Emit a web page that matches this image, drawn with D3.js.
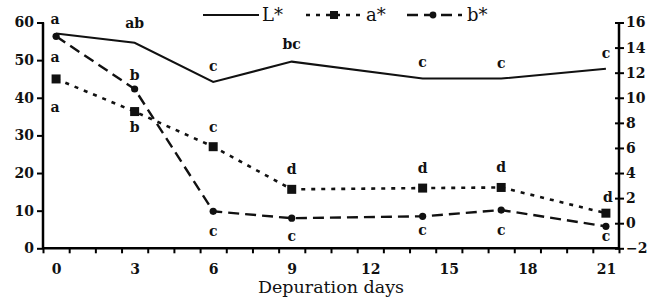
<!DOCTYPE html>
<html>
<head>
<meta charset="utf-8">
<script src="https://cdn.jsdelivr.net/npm/d3@7"></script>
<style>
  body { margin: 0; background: #fff; }
  svg { display: block; }
  .tick text { font: bold 14px "DejaVu Serif", serif; fill: #111; }
  .sig { font: bold 14px "DejaVu Serif", serif; fill: #111; text-anchor: middle; }
  .lgtext { font: 18px "DejaVu Serif", serif; fill: #111; }
</style>
</head>
<body>
<svg id="chart" width="655" height="300"></svg>
<script>
// Depuration days sampled
var days = [0, 3, 6, 9, 14, 17, 21];
var xTickLabels = [0, 3, 6, 9, 12, 15, 18, 21];
var leftTicks = [0, 10, 20, 30, 40, 50, 60];
var rightTicks = [-2, 0, 2, 4, 6, 8, 10, 12, 14, 16];

// values
var lValues = [57.1, 54.6, 44.2, 49.6, 45.1, 45.1, 47.7];   // left axis
var aValues = [11.5, 8.9, 6.1, 2.7, 2.8, 2.85, 0.8];        // right axis
var bValues = [14.9, 10.7, 0.95, 0.4, 0.55, 1.05, -0.25];   // right axis

// significance letters
var lLetters = ["a", "ab", "c", "bc", "c", "c", "c"];
var aLetters = ["a", "b", "c", "d", "d", "d", "d"];
var bLetters = ["a", "b", "c", "c", "c", "c", "c"];

var svg = d3.select("#chart");
var x = d3.scaleLinear().domain([-0.5, 21.5]).range([43, 619]);
var yL = d3.scaleLinear().domain([0, 60]).range([248.3, 22.5]);
var yR = d3.scaleLinear().domain([-2, 16]).range([248.3, 22.5]);

// x axis: labels plus minor ticks between days
var xAxis = svg.append("g").attr("transform", "translate(0,248.3)");
xAxis.call(d3.axisBottom(x).tickValues(d3.range(-0.5, 21.6, 1)).tickSize(5).tickFormat(""));
xAxis.select(".domain").attr("stroke-width", 2.5).attr("d", "M43,0H619");
xAxis.selectAll(".tick line").attr("stroke-width", 2);

var xLab = svg.append("g").attr("transform", "translate(0,248.3)")
  .call(d3.axisBottom(x).tickValues(xTickLabels).tickSize(0).tickPadding(16));
xLab.select(".domain").remove();

var leftAxis = svg.append("g").attr("transform", "translate(43,0)")
  .call(d3.axisLeft(yL).tickValues(leftTicks).tickSize(6).tickPadding(3));
leftAxis.select(".domain").attr("stroke-width", 2.5).attr("d", "M0,22.5V248.3");
leftAxis.selectAll(".tick line").attr("stroke-width", 2).attr("x2", 1).attr("x1", -6);

var rightAxis = svg.append("g").attr("transform", "translate(619,0)")
  .call(d3.axisRight(yR).tickValues(rightTicks).tickSize(5).tickPadding(4));
rightAxis.select(".domain").attr("stroke-width", 2.5).attr("d", "M0,22.5V248.3");
rightAxis.selectAll(".tick line").attr("stroke-width", 2).attr("x1", -4).attr("x2", 5);
rightAxis.selectAll(".tick text").attr("dx", -2);

svg.append("text").attr("x", 331).attr("y", 293).attr("text-anchor", "middle")
  .style("font", "17.5px 'DejaVu Serif', serif").attr("fill", "#111").text("Depuration days");

function series(vals, yScale) {
  return days.map(function(d, i) { return {x: x(d), y: yScale(vals[i])}; });
}
var lPts = series(lValues, yL), aPts = series(aValues, yR), bPts = series(bValues, yR);
var line = d3.line().x(function(d) { return d.x; }).y(function(d) { return d.y; });

svg.append("path").attr("d", line(lPts)).attr("fill", "none").attr("stroke", "#111").attr("stroke-width", 2);
svg.append("path").attr("d", line(aPts)).attr("fill", "none").attr("stroke", "#111")
  .attr("stroke-width", 2.6).attr("stroke-dasharray", "4,6");
svg.append("path").attr("d", line(bPts)).attr("fill", "none").attr("stroke", "#111")
  .attr("stroke-width", 2.4).attr("stroke-dasharray", "11,6");

svg.selectAll(".sq").data(aPts).enter().append("rect")
  .attr("x", function(d) { return d.x - 4.5; }).attr("y", function(d) { return d.y - 4.5; })
  .attr("width", 9).attr("height", 9).attr("fill", "#111");
svg.selectAll(".dot").data(bPts).enter().append("circle")
  .attr("cx", function(d) { return d.x; }).attr("cy", function(d) { return d.y; })
  .attr("r", 3.6).attr("fill", "#111");

// letters: offsets from the point
var lOff = [[-1, -9], [0, -15], [0, -11], [0, -13], [0, -12], [0, -11], [0, -11]];
var aOff = [[-1, 33], [0, 20], [0, -15], [0, -15], [0, -15], [0, -15], [2, -11]];
var bOff = [[-1, 26], [0, -9], [0, 25], [0, 23], [0, 19], [0, 25], [0, 15]];
function letters(pts, labs, off) {
  pts.forEach(function(p, i) {
    svg.append("text").attr("class", "sig")
      .attr("x", p.x + off[i][0]).attr("y", p.y + off[i][1]).text(labs[i]);
  });
}
letters(lPts, lLetters, lOff);
letters(aPts, aLetters, aOff);
letters(bPts, bLetters, bOff);

// legend
var lg = svg.append("g");
lg.append("line").attr("x1", 203).attr("x2", 259).attr("y1", 15).attr("y2", 15)
  .attr("stroke", "#111").attr("stroke-width", 2);
lg.append("text").attr("class", "lgtext").attr("x", 262).attr("y", 21).text("L*");
lg.append("line").attr("x1", 306).attr("x2", 362).attr("y1", 15).attr("y2", 15)
  .attr("stroke", "#111").attr("stroke-width", 2.6).attr("stroke-dasharray", "4,6");
lg.append("rect").attr("x", 330).attr("y", 11).attr("width", 8).attr("height", 8).attr("fill", "#111");
lg.append("text").attr("class", "lgtext").attr("x", 366).attr("y", 21).text("a*");
lg.append("line").attr("x1", 407).attr("x2", 462).attr("y1", 15).attr("y2", 15)
  .attr("stroke", "#111").attr("stroke-width", 2.4).attr("stroke-dasharray", "11,6");
lg.append("circle").attr("cx", 433).attr("cy", 15).attr("r", 3.4).attr("fill", "#111");
lg.append("text").attr("class", "lgtext").attr("x", 467).attr("y", 21).text("b*");
</script>
</body>
</html>
